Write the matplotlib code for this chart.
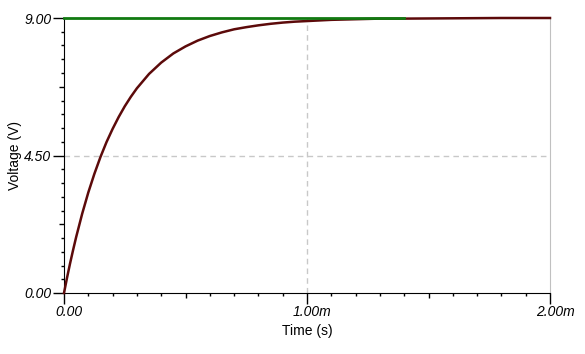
import numpy as np
import matplotlib.pyplot as plt
from matplotlib.ticker import MultipleLocator
import matplotlib.transforms as mtransforms

# data (time in ms, voltage in V)
t_cap = [0.0, 0.0125, 0.025, 0.0375, 0.05, 0.075, 0.10, 0.125, 0.15, 0.175,
         0.20, 0.225, 0.25, 0.275, 0.30, 0.35, 0.40, 0.45, 0.50, 0.55, 0.60,
         0.65, 0.70, 0.75, 0.80, 0.85, 0.90, 0.95, 1.00, 1.10, 1.20, 1.30,
         1.40, 1.60, 1.80, 2.00]
v_cap = [0.00, 0.50, 0.97, 1.41, 1.83, 2.60, 3.29, 3.90, 4.45, 4.94,
         5.37, 5.76, 6.11, 6.42, 6.70, 7.17, 7.54, 7.84, 8.07, 8.26, 8.41,
         8.53, 8.63, 8.70, 8.76, 8.81, 8.85, 8.88, 8.90, 8.94, 8.96, 8.98,
         8.98, 8.99, 9.00, 9.00]
t_src = [0.0, 1.40]
v_src = [9.00, 9.00]

x_ticks = [0.0, 0.5, 1.0, 1.5, 2.0]
x_labels = ['0.00', '', '1.00m', '', '2.00m']
y_ticks = [0.0, 2.25, 4.5, 6.75, 9.0]
y_labels = ['0.00', '', '4.50', '', '9.00']

plt.rcParams['font.family'] = ['Liberation Sans', 'DejaVu Sans']

fig = plt.figure(figsize=(5.85, 3.54), dpi=100)
ax = fig.add_axes([64 / 585, 1 - 293 / 354, 486 / 585, 275 / 354])

# grid
ax.axvline(1.0, color='#c8c8c8', lw=1, ls=(0, (4, 3)), zorder=0)
ax.axhline(4.5, color='#c8c8c8', lw=1, ls=(0, (4, 3)), zorder=0)

# curves
ax.plot(t_cap, v_cap, color='#5c0a0a', lw=1.8, zorder=3, clip_on=False)
ax.plot(t_src, v_src, color='#117a11', lw=2, zorder=4, clip_on=False)

ax.set_xlim(0, 2.0)
ax.set_ylim(0, 9.0)

ax.spines['top'].set_visible(False)
ax.spines['right'].set_color('#c0c0c0')
ax.spines['left'].set_color('black')
ax.spines['bottom'].set_color('black')

ax.set_xticks(x_ticks)
ax.set_xticklabels(x_labels, fontsize=10, style='italic')
ax.set_yticks(y_ticks)
ax.set_yticklabels(y_labels, fontsize=10, style='italic')
ax.xaxis.set_minor_locator(MultipleLocator(0.1))
ax.yaxis.set_minor_locator(MultipleLocator(0.45))
ax.tick_params(which='major', length=8, width=1, pad=1, direction='out')
ax.tick_params(which='minor', length=2.2, width=1, direction='out')

# labelled ticks long, the others medium
for tk, lab in zip(ax.xaxis.get_major_ticks(), x_labels):
    if lab == '':
        tk.tick1line.set_markersize(3.6)
for tk, lab in zip(ax.yaxis.get_major_ticks(), y_labels):
    if lab == '':
        tk.tick1line.set_markersize(3.6)

# shift x tick labels a bit to the right as in the original
offset = mtransforms.ScaledTranslation(5 / 100, 0, fig.dpi_scale_trans)
for lbl in ax.get_xticklabels():
    lbl.set_transform(lbl.get_transform() + offset)

ax.set_xlabel('Time (s)', fontsize=10, labelpad=3)
ax.set_ylabel('Voltage (V)', fontsize=10, labelpad=2)

plt.savefig('out.png', dpi=100)
